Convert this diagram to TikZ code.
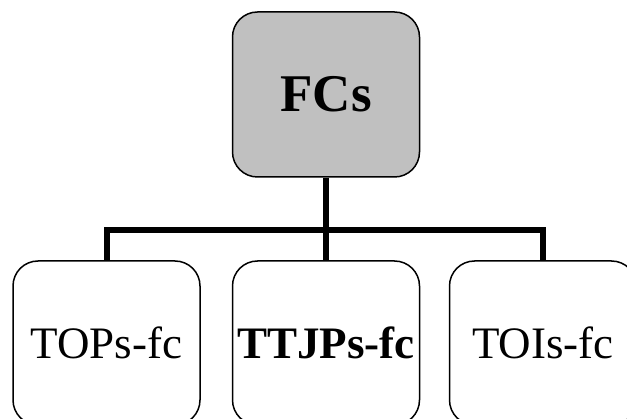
\documentclass[tikz,border=0pt]{standalone}
\usepackage{fontspec}
\setmainfont{Liberation Serif}
\usetikzlibrary{positioning}
\definecolor{fcgray}{RGB}{192,192,192}
\tikzset{
  fcbox/.style={draw,line width=1.5pt,rounded corners=25pt,inner sep=0pt,
                minimum width=187pt,minimum height=164pt},
  conn/.style={line width=6pt}
}

\begin{document}
\begin{tikzpicture}[x=1pt,y=-1pt]
  \useasboundingbox (0,0) rectangle (627,419);
  \clip (0,0) rectangle (627,419);
  % root
  \node[fcbox,fill=fcgray,minimum height=165pt] (fcs) at (326,94.5)
       {\fontsize{53}{60}\selectfont\bfseries FCs};
  % children
  \node[fcbox] (tops) at (106.5,343) {\fontsize{45}{52}\selectfont TOPs-fc};
  \node[fcbox] (ttjps) at (326,343) {\fontsize{45}{52}\selectfont\bfseries TTJPs-fc};
  \node[fcbox] (tois) at (543,343) {\fontsize{45}{52}\selectfont TOIs-fc};
  % connectors
  \coordinate (bar) at ([yshift=-52pt]fcs.south);
  \draw[conn] (fcs.south) -- (ttjps.north);
  \draw[conn] (tops.north) |- (bar) -| (tois.north);
\end{tikzpicture}
\end{document}
